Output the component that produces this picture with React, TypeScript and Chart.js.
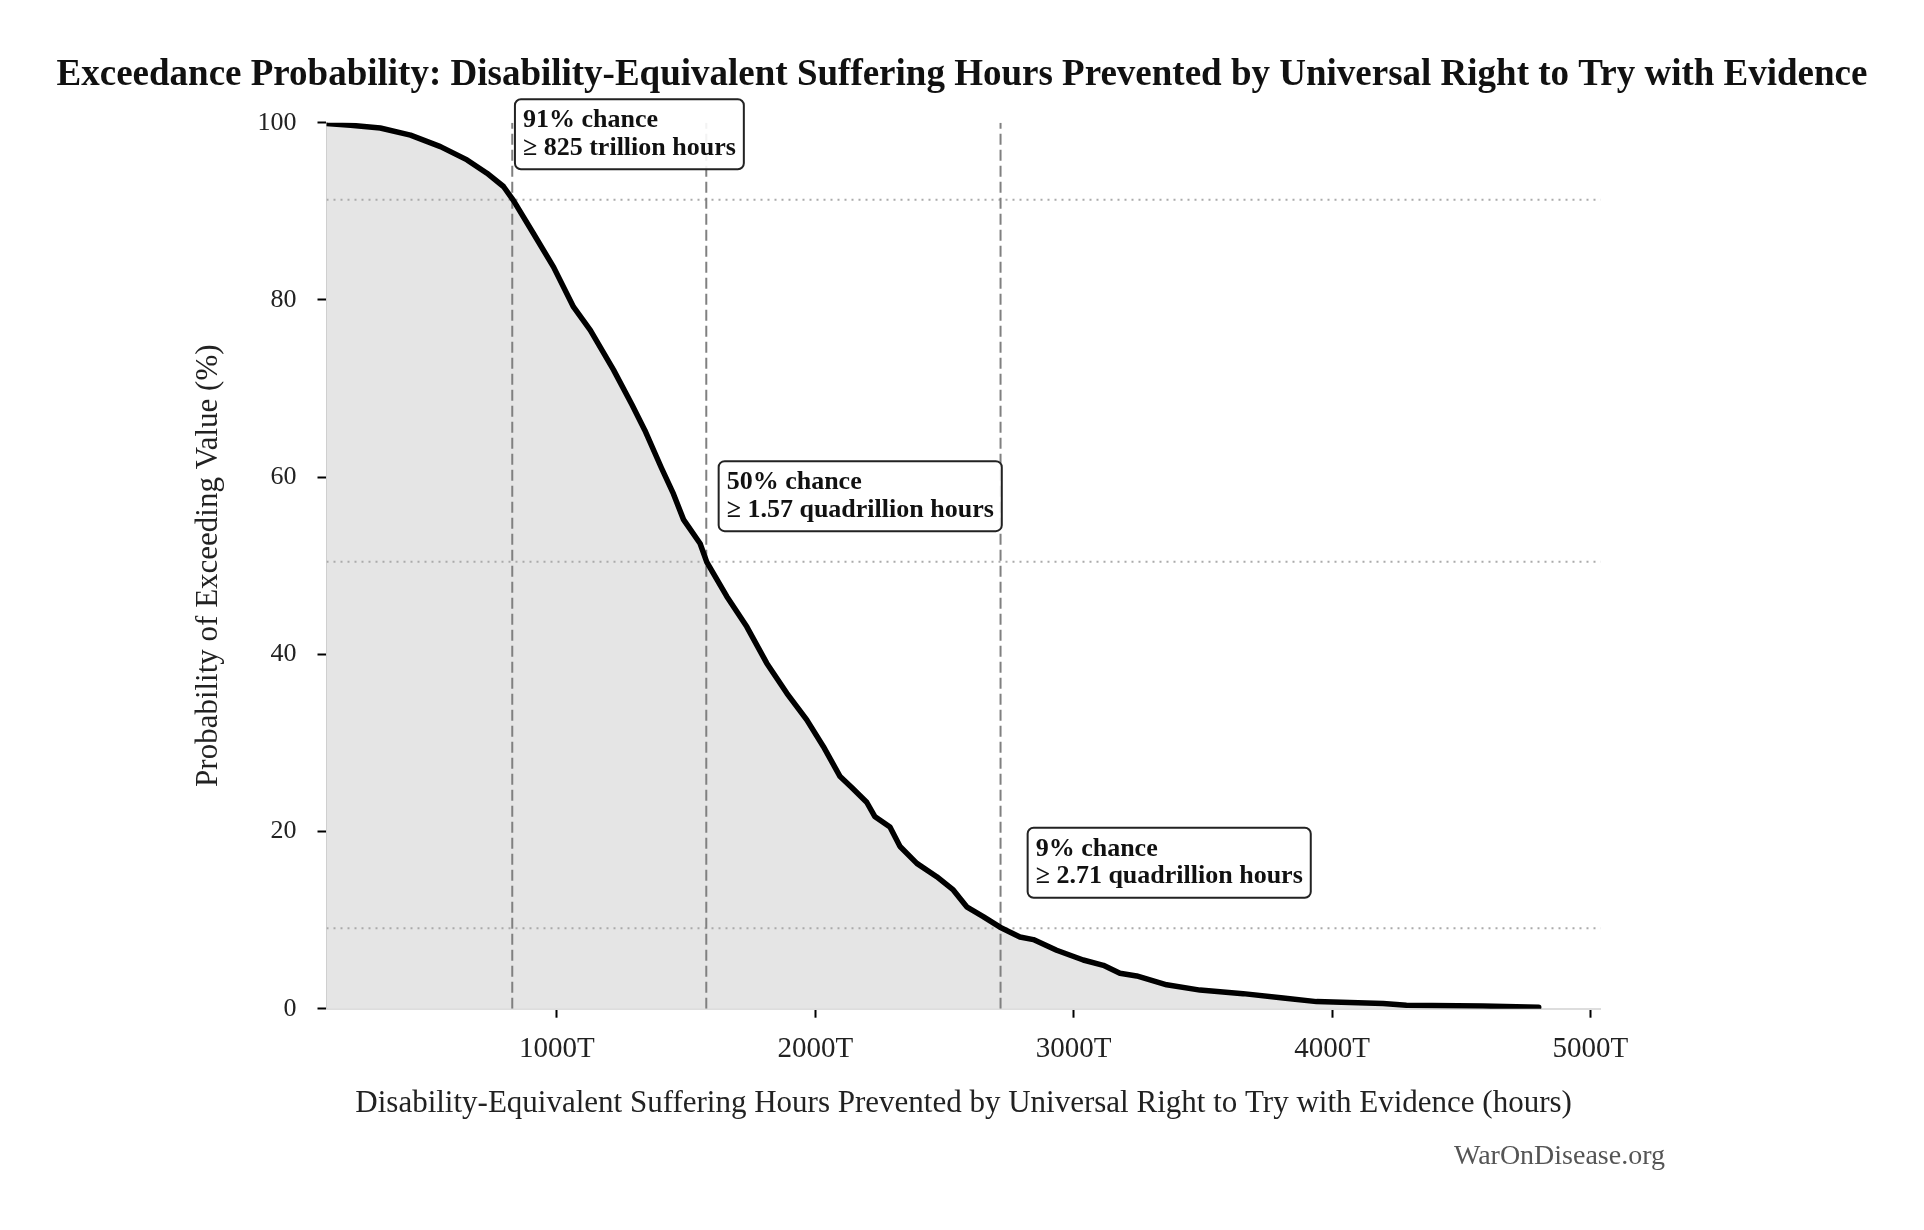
import React, { useEffect, useRef } from "react";
import { Chart, registerables } from "chart.js";

Chart.register(...registerables);

// ---- data ----
const HOURS_T = [
  108, 201, 316, 433, 549, 652, 729, 793, 832, 909, 987, 1064, 1129, 1219, 1290, 1340,
  1405, 1451, 1490, 1554, 1580, 1658, 1735, 1812, 1890, 1967, 2031, 2096, 2140, 2199,
  2230, 2289, 2328, 2393, 2470, 2534, 2586, 2650, 2715, 2792, 2844, 2934, 3037, 3115,
  3179, 3244, 3360, 3489, 3656, 3811, 3940, 4069, 4198, 4288, 4584, 4800,
];
const EXCEED_PCT = [
  99.9, 99.7, 99.4, 98.6, 97.3, 95.8, 94.3, 92.8, 91.2, 87.5, 83.7, 79.2, 76.6, 72.1, 68.2, 65.3,
  61.0, 58.1, 55.2, 52.5, 50.4, 46.5, 43.1, 39.0, 35.6, 32.6, 29.6, 26.2, 25.0, 23.3,
  21.7, 20.5, 18.3, 16.4, 14.9, 13.4, 11.5, 10.4, 9.2, 8.1, 7.8, 6.6, 5.5, 4.9,
  4.0, 3.7, 2.7, 2.1, 1.7, 1.2, 0.8, 0.7, 0.6, 0.4, 0.3, 0.15,
];
const MARK_VALUES_T = [827, 1578, 2717];
const MARK_PCT = [91.3, 50.45, 9.07];
const MARK_LINE1 = ["91% chance", "50% chance", "9% chance"];
const MARK_LINE2 = ["\u2265 825 trillion hours", "\u2265 1.57 quadrillion hours", "\u2265 2.71 quadrillion hours"];
const X_TICKS = [1000, 2000, 3000, 4000, 5000];
const Y_TICKS = [0, 20, 40, 60, 80, 100];

const TITLE = "Exceedance Probability: Disability-Equivalent Suffering Hours Prevented by Universal Right to Try with Evidence";
const X_TITLE = "Disability-Equivalent Suffering Hours Prevented by Universal Right to Try with Evidence (hours)";
const Y_TITLE = "Probability of Exceeding Value (%)";
const WATERMARK = "WarOnDisease.org";

const X_MIN = HOURS_T[0];
const X_MAX = HOURS_T[HOURS_T.length - 1] * 1.05;
const SERIF = "'Liberation Serif', 'DejaVu Serif', serif";

const overlayPlugin = {
  id: "overlay",
  afterDatasetsDraw(chart: any) {
    const ctx = chart.ctx as CanvasRenderingContext2D;
    const xs = chart.scales.x;
    const ys = chart.scales.y;
    ctx.save();
    ctx.font = `bold 26px ${SERIF}`;
    for (let i = 0; i < MARK_VALUES_T.length; i++) {
      const tx = xs.getPixelForValue(MARK_VALUES_T[i] * 1.05);
      const cy = ys.getPixelForValue(MARK_PCT[i] + 7.4);
      const w = Math.max(ctx.measureText(MARK_LINE1[i]).width, ctx.measureText(MARK_LINE2[i]).width);
      const left = tx - 8;
      const top = cy - 35;
      const bw = w + 16;
      const bh = 70;
      ctx.beginPath();
      (ctx as any).roundRect(left, top, bw, bh, 6);
      ctx.fillStyle = "rgba(255,255,255,0.9)";
      ctx.fill();
      ctx.lineWidth = 2;
      ctx.strokeStyle = "#222";
      ctx.stroke();
      ctx.fillStyle = "#111";
      ctx.textAlign = "left";
      ctx.textBaseline = "middle";
      ctx.fillText(MARK_LINE1[i], tx, cy - 13.8);
      ctx.fillText(MARK_LINE2[i], tx, cy + 13.8);
    }
    ctx.restore();
  },
  afterDraw(chart: any) {
    const ctx = chart.ctx as CanvasRenderingContext2D;
    ctx.save();
    ctx.font = `bold 37px ${SERIF}`;
    ctx.fillStyle = "#111";
    ctx.textAlign = "center";
    ctx.textBaseline = "middle";
    ctx.fillText(TITLE, chart.width / 2, 75);
    ctx.font = `28px ${SERIF}`;
    ctx.fillStyle = "#555";
    ctx.textAlign = "right";
    ctx.fillText(WATERMARK, 1665, 1157);
    ctx.restore();
  },
};

export default function App() {
  const ref = useRef<HTMLCanvasElement | null>(null);
  useEffect(() => {
    if (!ref.current) return;
    const curve = HOURS_T.map((x, i) => ({ x, y: EXCEED_PCT[i] }));
    const vLines = MARK_VALUES_T.map((v) => ({
      data: [{ x: v, y: 0 }, { x: v, y: 100 }],
      borderColor: "#808080",
      borderWidth: 2,
      borderDash: [11, 5],
      pointRadius: 0,
      fill: false,
      order: 1,
    }));
    const hLines = MARK_PCT.map((p) => ({
      data: [{ x: X_MIN, y: p }, { x: X_MAX, y: p }],
      borderColor: "#aaaaaa",
      borderWidth: 2,
      borderDash: [2, 5],
      pointRadius: 0,
      fill: false,
      order: 2,
    }));
    const chart = new Chart(ref.current, {
      type: "line",
      data: {
        datasets: [
          {
            data: curve,
            borderColor: "#000",
            borderWidth: 5.5,
            backgroundColor: "#e5e5e5",
            fill: "origin",
            pointRadius: 0,
            tension: 0,
            borderJoinStyle: "round",
            borderCapStyle: "round",
            order: 0,
          },
          ...vLines,
          ...hLines,
        ] as any,
      },
      options: {
        animation: false,
        responsive: true,
        maintainAspectRatio: false,
        layout: { padding: { left: 0, right: 323.3, top: 122.7, bottom: 0 } },
        plugins: {
          legend: { display: false },
          tooltip: { enabled: false },
          title: { display: false },
          filler: { drawTime: "beforeDatasetsDraw" } as any,
        },
        scales: {
          x: {
            type: "linear",
            min: X_MIN,
            max: X_MAX,
            afterBuildTicks: (s: any) => {
              s.ticks = X_TICKS.map((v) => ({ value: v }));
            },
            afterFit: (s: any) => {
              s.height = 221.3;
            },
            ticks: {
              callback: (v: any) => `${v}T`,
              font: { family: SERIF, size: 29 },
              color: "#222",
              padding: 14,
              maxRotation: 0,
              autoSkip: false,
            },
            grid: { drawOnChartArea: false, tickLength: 9, tickColor: "#000", tickWidth: 2 },
            border: { color: "#dddddd", width: 2 },
            title: {
              display: true,
              text: X_TITLE,
              font: { family: SERIF, size: 31 },
              color: "#222",
              padding: { top: 0, bottom: 107.4 },
            },
          },
          y: {
            type: "linear",
            min: 0,
            max: 100,
            afterBuildTicks: (s: any) => {
              s.ticks = Y_TICKS.map((v) => ({ value: v }));
            },
            afterFit: (s: any) => {
              s.width = 326.5;
            },
            ticks: {
              font: { family: SERIF, size: 26 },
              color: "#222",
              padding: 21,
            },
            grid: { drawOnChartArea: false, tickLength: 9, tickColor: "#000", tickWidth: 2 },
            border: { color: "#cccccc", width: 2 },
            title: {
              display: true,
              text: Y_TITLE,
              font: { family: SERIF, size: 31 },
              color: "#222",
              padding: { top: 190, bottom: 0 },
            },
          },
        },
      },
      plugins: [overlayPlugin],
    });
    return () => chart.destroy();
  }, []);
  return (
    <div style={{ position: "absolute", left: 0, top: 0, width: 1924, height: 1230, background: "#fff" }}>
      <canvas ref={ref} />
    </div>
  );
}
